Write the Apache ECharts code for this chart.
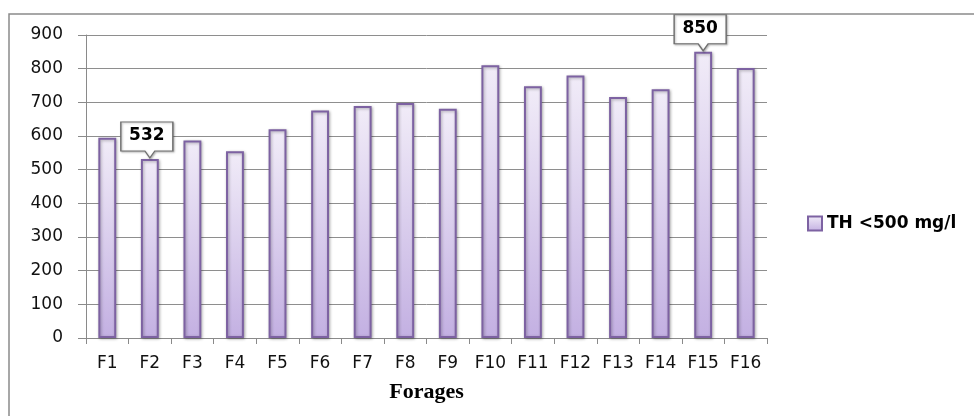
<!DOCTYPE html>
<html>
<head>
<meta charset="utf-8">
<script src="https://cdn.jsdelivr.net/npm/echarts@6/dist/echarts.min.js"></script>
<style>
  html, body { margin: 0; padding: 0; background: #fff; }
  #chart { width: 974px; height: 416px; }
</style>
</head>
<body>
<div id="chart"></div>
<script>
// Wells (forages) and their total hardness values
const categories = ['F1','F2','F3','F4','F5','F6','F7','F8','F9','F10','F11','F12','F13','F14','F15','F16'];
const thValues = [595, 532, 587, 555, 620, 676, 689, 698, 681, 810, 748, 780, 716, 739, 850, 802];
const yTicks = { min: 0, max: 900, interval: 100 };
const seriesName = 'TH <500 mg/l';
const xAxisTitle = 'Forages';
// Wells whose value is called out in a box
const calloutWells = ['F2', 'F15'];

// Box with a small tail on the bottom, used as the callout shape
const calloutPath = 'path://M0 0 H52 V29 H34 L29 36 L24 29 H0 Z';

const chart = echarts.init(document.getElementById('chart'));

const barFill = new echarts.graphic.LinearGradient(0, 0, 0, 1, [
  { offset: 0, color: '#f1ecf8' },
  { offset: 1, color: '#c3b0e2' }
]);

chart.setOption({
  animation: false,
  backgroundColor: '#ffffff',
  graphic: [{
    type: 'rect',
    shape: { x: 9, y: 14, width: 1000, height: 440 },
    style: { fill: 'none', stroke: '#8a8a8a', lineWidth: 1.5 },
    silent: true
  }],
  grid: { left: 86, right: 207, top: 35, bottom: 78 },
  legend: {
    data: [{ name: seriesName, icon: 'rect' }],
    left: 802,
    top: 210,
    itemWidth: 14,
    itemHeight: 14,
    textStyle: { fontFamily: 'DejaVu Sans', fontSize: 17, fontWeight: 'bold', color: '#000' }
  },
  xAxis: {
    type: 'category',
    data: categories,
    name: xAxisTitle,
    nameLocation: 'middle',
    nameGap: 43,
    nameTextStyle: { fontFamily: 'Liberation Serif', fontSize: 22, fontWeight: 'bold', color: '#000' },
    axisLine: { lineStyle: { color: '#8a8a8a', width: 1 } },
    axisTick: { show: true, length: 6, lineStyle: { color: '#8a8a8a' } },
    axisLabel: { margin: 17, fontFamily: 'DejaVu Sans', fontSize: 17, color: '#111' }
  },
  yAxis: {
    type: 'value',
    min: yTicks.min,
    max: yTicks.max,
    interval: yTicks.interval,
    axisLine: { show: true, lineStyle: { color: '#8a8a8a', width: 1 } },
    axisTick: { show: true, length: 8, lineStyle: { color: '#8a8a8a' } },
    axisLabel: { margin: 23, fontFamily: 'DejaVu Sans', fontSize: 17, color: '#111' },
    splitLine: { lineStyle: { color: '#8e8e8e', width: 1 } }
  },
  series: [{
    name: seriesName,
    type: 'bar',
    data: thValues,
    barWidth: '42%',
    itemStyle: {
      color: barFill,
      borderColor: '#7d62a2',
      borderWidth: 2,
      shadowColor: 'rgba(0,0,0,0.3)',
      shadowBlur: 3,
      shadowOffsetX: 1,
      shadowOffsetY: 1
    },
    markPoint: {
      symbol: calloutPath,
      symbolSize: [52, 36],
      symbolKeepAspect: false,
      symbolOffset: [-3, -19],
      itemStyle: { color: '#ffffff', borderColor: '#6f6f6f', borderWidth: 1.2,
        shadowColor: 'rgba(0,0,0,0.25)', shadowBlur: 2, shadowOffsetX: 1, shadowOffsetY: 1 },
      label: {
        show: true,
        offset: [0, -4],
        fontFamily: 'DejaVu Sans',
        fontSize: 17,
        fontWeight: 'bold',
        color: '#000'
      },
      data: calloutWells.map(w => {
        const i = categories.indexOf(w);
        return { coord: [w, thValues[i]], value: thValues[i] };
      })
    }
  }]
});
</script>
</body>
</html>
